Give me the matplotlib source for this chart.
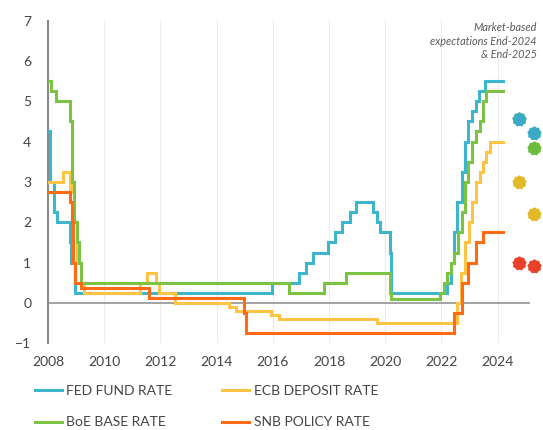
import numpy as np
import matplotlib
matplotlib.use("Agg")
import matplotlib.pyplot as plt
from matplotlib.path import Path

plt.rcParams['font.family'] = ['Lato', 'DejaVu Sans']

END = 2024.2

# Policy rate changes (decimal year of change, new rate)
fed_dates = [2008.00, 2008.06, 2008.08, 2008.21, 2008.33, 2008.77, 2008.83, 2008.96,
             2015.96, 2016.95, 2017.20, 2017.45, 2017.95, 2018.22, 2018.45, 2018.74, 2018.97,
             2019.58, 2019.71, 2019.83, 2020.17, 2020.20,
             2022.21, 2022.34, 2022.46, 2022.57, 2022.72, 2022.84, 2022.95,
             2023.09, 2023.22, 2023.34, 2023.57, END]
fed_rates = [4.25, 3.50, 3.00, 2.25, 2.00, 1.50, 1.00, 0.25,
             0.50, 0.75, 1.00, 1.25, 1.50, 1.75, 2.00, 2.25, 2.50,
             2.25, 2.00, 1.75, 1.25, 0.25,
             0.50, 1.00, 1.75, 2.50, 3.25, 4.00, 4.50,
             4.75, 5.00, 5.25, 5.50, 5.50]

ecb_dates = [2008.00, 2008.52, 2008.77, 2008.79, 2008.87, 2008.94, 2009.05, 2009.19, 2009.27,
             2011.28, 2011.53, 2011.86, 2011.95, 2012.52, 2014.44, 2014.69, 2015.94, 2016.21,
             2019.71, 2022.57, 2022.70, 2022.84, 2022.97, 2023.10, 2023.22, 2023.36,
             2023.47, 2023.59, 2023.72, END]
ecb_rates = [3.00, 3.25, 2.75, 3.25, 2.75, 2.00, 1.00, 0.50, 0.25,
             0.50, 0.75, 0.50, 0.25, 0.00, -0.10, -0.20, -0.30, -0.40,
             -0.50, 0.00, 0.75, 1.50, 2.00, 2.50, 3.00, 3.25,
             3.50, 3.75, 4.00, 4.00]

boe_dates = [2008.00, 2008.10, 2008.27, 2008.77, 2008.85, 2008.93, 2009.02, 2009.10, 2009.17,
             2016.59, 2017.84, 2018.59, 2020.19, 2020.21, 2021.96, 2022.09, 2022.21,
             2022.34, 2022.46, 2022.59, 2022.73, 2022.84, 2022.96, 2023.09, 2023.22,
             2023.36, 2023.47, 2023.59, END]
boe_rates = [5.50, 5.25, 5.00, 4.50, 3.00, 2.00, 1.50, 1.00, 0.50,
             0.25, 0.50, 0.75, 0.25, 0.10, 0.25, 0.50, 0.75,
             1.00, 1.25, 1.75, 2.25, 3.00, 3.50, 4.00, 4.25,
             4.50, 5.00, 5.25, 5.25]

snb_dates = [2008.00, 2008.77, 2008.85, 2008.89, 2008.95, 2009.19, 2011.59, 2014.96, 2015.04,
             2022.46, 2022.72, 2022.96, 2023.22, 2023.47, END]
snb_rates = [2.75, 2.50, 2.00, 1.00, 0.50, 0.375, 0.125, -0.25, -0.75,
             -0.25, 0.50, 1.00, 1.50, 1.75, 1.75]

# Market-based expectations (End-2024, End-2025)
exp_x = [2024.78, 2025.30]
fed_exp = [4.55, 4.20]
boe_exp = [4.55, 3.85]
ecb_exp = [3.00, 2.20]
snb_exp = [1.00, 0.92]

labels = ["FED FUND RATE", "ECB DEPOSIT RATE", "BoE BASE RATE", "SNB POLICY RATE"]
line_colors = ["#3DB5CC", "#FFC445", "#7CC243", "#FF6A14"]
dot_colors = ["#3AAAC6", "#E2B928", "#6CBB3C", "#E8432A"]

# starburst marker
n = 18
ang = np.linspace(0, 2 * np.pi, n, endpoint=False) + np.pi / 2
rad = np.where(np.arange(n) % 2 == 0, 1.0, 0.86)
verts = np.column_stack([rad * np.cos(ang), rad * np.sin(ang)])
verts = np.vstack([verts, verts[:1]])
codes = [Path.MOVETO] + [Path.LINETO] * (n - 1) + [Path.CLOSEPOLY]
burst = Path(verts, codes)

fig = plt.figure(figsize=(5.43, 4.30), dpi=100)
ax = fig.add_axes([48 / 543, 1 - 343.3 / 430, 1 - 48 / 543 - 0.001, (343.3 - 20.5) / 430])

series = [(fed_dates, fed_rates), (ecb_dates, ecb_rates), (boe_dates, boe_rates), (snb_dates, snb_rates)]
handles = []
for (d, r), lab, c in zip(series, labels, line_colors):
    h, = ax.plot(d, r, drawstyle='steps-post', color=c, lw=2.2, label=lab,
                 solid_joinstyle='miter', zorder=3)
    handles.append(h)

for vals, c in [(ecb_exp, dot_colors[1]), (snb_exp, dot_colors[3]),
                (boe_exp, dot_colors[2]), (fed_exp, dot_colors[0])]:
    ax.plot(exp_x, vals, linestyle='none', marker=burst, markersize=10.5,
            color=c, markeredgewidth=0, clip_on=False, zorder=4)

ax.hlines(0, 2008, 2025.15, color='#8a8a8a', lw=1.1, zorder=2)

ax.set_xlim(2008, 2025.6)
ax.set_ylim(-1, 7)
ax.set_xticks(range(2008, 2025, 2))
ax.set_yticks(range(-1, 8))
ax.grid(axis='x', color='#ececec', lw=0.8, zorder=0)
for s in ['top', 'right', 'bottom']:
    ax.spines[s].set_visible(False)
ax.spines['left'].set_color('#8a8a8a')
ax.spines['left'].set_linewidth(1.5)
ax.tick_params(axis='both', length=0, labelsize=10, labelcolor='#444444')
ax.tick_params(axis='y', pad=12)
ax.tick_params(axis='x', pad=9)

fig.text(537 / 543, 1 - 22 / 430, "Market-based\nexpectations End-2024\n& End-2025",
         ha='right', va='top', fontsize=7.8, style='italic', color='#5a5a5a',
         linespacing=1.3)

leg = fig.legend([handles[0], handles[2], handles[1], handles[3]],
                 [labels[0], labels[2], labels[1], labels[3]],
                 ncol=2, loc='upper left', bbox_to_anchor=(35 / 543, 1 - 385 / 430),
                 frameon=False, fontsize=10, handlelength=1.95, handletextpad=0.3,
                 columnspacing=3.6, labelspacing=1.4, borderpad=0, borderaxespad=0)
for t in leg.get_texts():
    t.set_color('#444444')

fig.savefig("out.png", dpi=100)
